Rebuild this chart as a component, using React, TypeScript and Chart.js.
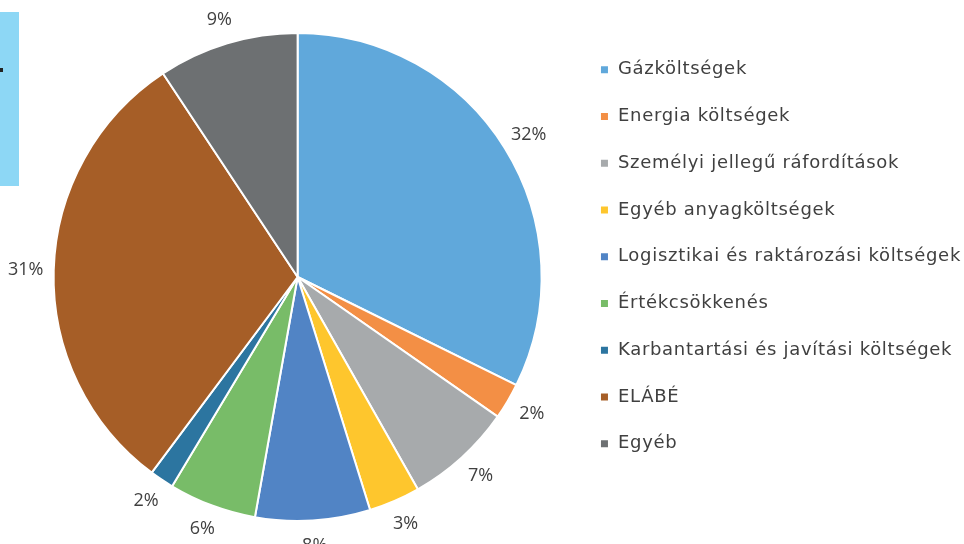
import React, { useEffect, useRef } from "react";
import { Chart, registerables } from "chart.js";

Chart.register(...registerables);

const categories = [
  "Gázköltségek",
  "Energia költségek",
  "Személyi jellegű ráfordítások",
  "Egyéb anyagköltségek",
  "Logisztikai és raktározási költségek",
  "Értékcsökkenés",
  "Karbantartási és javítási költségek",
  "ELÁBÉ",
  "Egyéb",
];

const shares = [32.3, 2.4, 7.1, 3.4, 7.6, 5.8, 1.6, 30.5, 9.3];

const colors = [
  "#60A8DB",
  "#F38F45",
  "#A7AAAC",
  "#FEC62D",
  "#5184C5",
  "#78BC68",
  "#2C75A0",
  "#A65E27",
  "#6D7072",
];

const spacingPlugin = {
  id: "legendSpacing",
  beforeLayout(chart: any) {
    chart.ctx.letterSpacing = "0.7px";
  },
  beforeDraw(chart: any) {
    chart.ctx.letterSpacing = "0.7px";
  },
};

const labelPlugin = {
  id: "pctLabels",
  afterDatasetsDraw(chart: any) {
    const ctx = chart.ctx;
    const meta = chart.getDatasetMeta(0);
    const data = chart.data.datasets[0].data as number[];
    const total = data.reduce((a, b) => a + b, 0);
    ctx.save();
    ctx.letterSpacing = "0px";
    ctx.font = "18px 'Open Sans'";
    ctx.fillStyle = "#404040";
    ctx.textAlign = "center";
    ctx.textBaseline = "middle";
    meta.data.forEach((arc: any, i: number) => {
      const p = arc.getProps(["x", "y", "startAngle", "endAngle", "outerRadius"], true);
      const mid = (p.startAngle + p.endAngle) / 2;
      const r = p.outerRadius + 25;
      const tx = p.x + Math.cos(mid) * (r + 3);
      const ty = p.y + Math.sin(mid) * r;
      ctx.fillText(Math.round((data[i] / total) * 100) + "%", tx, ty);
    });
    ctx.restore();
  },
};

export default function App() {
  const ref = useRef<HTMLCanvasElement | null>(null);
  useEffect(() => {
    if (!ref.current) return;
    const chart = new Chart(ref.current, {
      type: "pie",
      data: {
        labels: categories,
        datasets: [
          {
            data: shares,
            backgroundColor: colors,
            borderColor: "#ffffff",
            borderWidth: 2,
          },
        ],
      },
      options: {
        animation: false,
        responsive: false,
        layout: { padding: { left: 24, top: 32, bottom: 22, right: -7 } },
        plugins: {
          tooltip: { enabled: false },
          legend: {
            position: "right",
            align: "start",
            labels: {
              boxWidth: 9,
              boxHeight: 9,
              padding: 28.75,
              color: "#404040",
              font: { family: "'DejaVu Sans'", size: 18 },
            },
          },
        },
      },
      plugins: [spacingPlugin, labelPlugin],
    });
    return () => chart.destroy();
  }, []);
  return (
    <div style={{ position: "fixed", left: 0, top: 0, width: 964, height: 544, background: "#fff" }}>
      <canvas ref={ref} width={964} height={544} style={{ position: "absolute", left: 0, top: 0 }} />
      <div style={{ position: "absolute", left: 0, top: 12, width: 19, height: 174, background: "#8DD7F5" }} />
      <div style={{ position: "absolute", left: 0, top: 68, width: 3, height: 4, background: "#222" }} />
    </div>
  );
}
